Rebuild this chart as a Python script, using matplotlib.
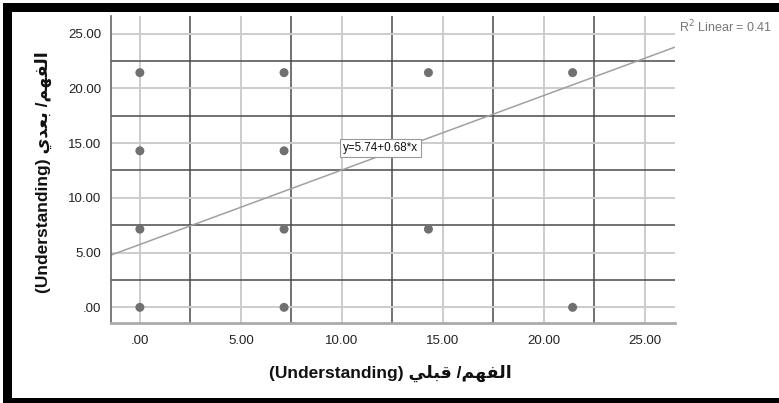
import matplotlib
matplotlib.use("Agg")
import matplotlib.pyplot as plt
from matplotlib.patches import Rectangle
from matplotlib.ticker import FixedLocator, FuncFormatter

# ---- data ----
pre_scores = [0.0, 0.0, 0.0, 0.0, 7.14, 7.14, 7.14, 7.14, 14.29, 14.29, 21.43, 21.43]
post_scores = [21.43, 14.29, 7.14, 0.0, 21.43, 14.29, 7.14, 0.0, 21.43, 7.14, 21.43, 0.0]
fit_intercept = 5.74
fit_slope = 0.68
r_squared_text = "R$^2$ Linear = 0.41"
major_ticks = [0, 5, 10, 15, 20, 25]
minor_ticks = [2.5, 7.5, 12.5, 17.5, 22.5]

# Arabic in visual order with presentation forms (matplotlib does no shaping)
ar_fahm = "\uFEE2\uFEEC\uFED4\uFEDF\uFE8D"   # الفهم
ar_qabli = "\uFEF2\uFEE0\uFE92\uFED7"        # قبلي
ar_baadi = "\uFEF1\uFEAA\uFECC\uFE91"        # بعدي
xlabel = "(Understanding) " + ar_qabli + " /" + ar_fahm
ylabel = "(Understanding) " + ar_baadi + " /" + ar_fahm

W, H = 779, 403
fig = plt.figure(figsize=(W / 100, H / 100), dpi=100)
fig.patch.set_facecolor("white")

ax = fig.add_axes([111 / W, 1 - 323 / H, (675 - 111) / W, (323 - 16) / H])
ax.set_xlim(-1.43, 26.5)
ax.set_ylim(-1.43, 26.6)

fmt = FuncFormatter(lambda v, p: ".00" if v == 0 else f"{v:.2f}")
for axis in (ax.xaxis, ax.yaxis):
    axis.set_major_locator(FixedLocator(major_ticks))
    axis.set_minor_locator(FixedLocator(minor_ticks))
    axis.set_major_formatter(fmt)

ax.grid(which="major", color="#cccccc", linewidth=1.4, zorder=0)
ax.grid(which="minor", color="#4a4a4a", linewidth=1.1, zorder=0.5)
ax.set_axisbelow(True)
ax.tick_params(which="both", length=0)
ax.tick_params(axis="x", pad=9, labelsize=9.5, labelcolor="#222222")
ax.tick_params(axis="y", pad=7, labelsize=9.5, labelcolor="#222222")
for lab in ax.get_xticklabels() + ax.get_yticklabels():
    lab.set_family("Liberation Sans")

for s in ("top", "right"):
    ax.spines[s].set_visible(False)
ax.spines["left"].set_color("#666666")
ax.spines["left"].set_linewidth(1.2)
ax.spines["bottom"].set_color("#aaaaaa")
ax.spines["bottom"].set_linewidth(2)

ax.axline((0, fit_intercept), slope=fit_slope, color="#a0a0a0", linewidth=1.1, zorder=2)
ax.scatter(pre_scores, post_scores, s=42, color="#707070", edgecolors="none", zorder=3)

ax.text(10.05, 14.55, f"y={fit_intercept:.2f}+{fit_slope:.2f}*x", fontsize=8.4,
        family="Liberation Sans", color="#111111", va="center", ha="left", zorder=4,
        bbox=dict(boxstyle="square,pad=0.25", facecolor="white", edgecolor="#999999", linewidth=0.8))

fig.text(679 / W, 1 - 27 / H, r_squared_text, fontsize=9, color="#777777",
         family="Liberation Sans", ha="left", va="center")

fam = ["Liberation Sans", "DejaVu Sans"]
fig.text(390 / W, 1 - 373 / H, xlabel, fontsize=12.5, fontweight="bold",
         family=fam, ha="center", va="center", color="#111111")
fig.text(43 / W, 1 - 172 / H, ylabel, fontsize=12.5, fontweight="bold",
         family=fam, ha="center", va="center", rotation=90, color="#111111")

# black frame bars
for (x0, y0, w, h) in [(3, 3, W - 3, 9), (3, 3, 9, H - 3), (3, 398, W - 3, 5)]:
    fig.add_artist(Rectangle((x0 / W, 1 - (y0 + h) / H), w / W, h / H,
                             transform=fig.transFigure, facecolor="black",
                             edgecolor="none", zorder=10))

fig.savefig("out.png", dpi=100, facecolor="white")
